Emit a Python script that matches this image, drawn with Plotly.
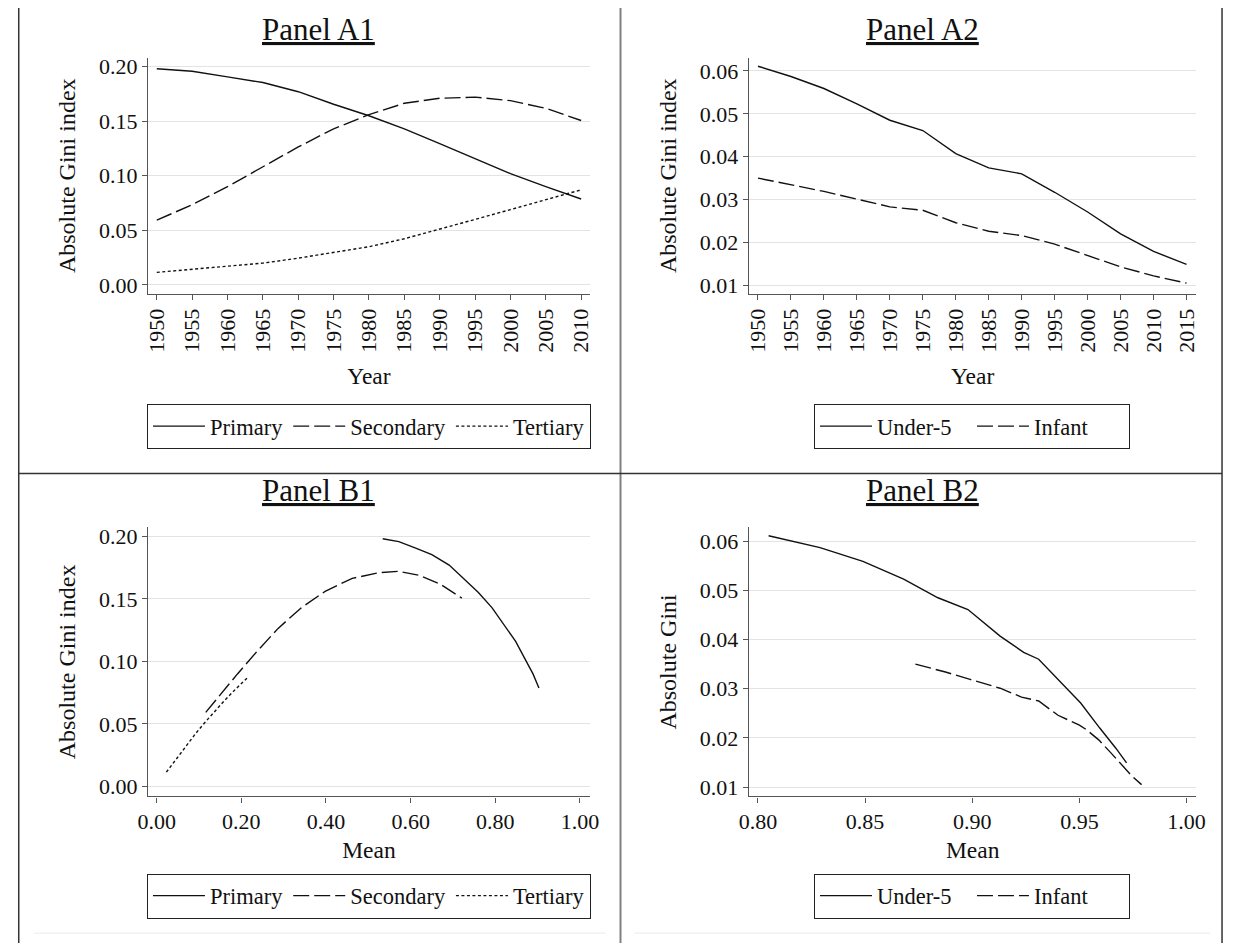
import plotly.graph_objects as go

# ---------------- data ----------------
years_edu = [1950, 1955, 1960, 1965, 1970, 1975, 1980, 1985, 1990, 1995, 2000, 2005, 2010]
primary_gini = [0.198, 0.1957, 0.1906, 0.1854, 0.177, 0.1655, 0.155, 0.143, 0.1295, 0.116, 0.102, 0.090, 0.0787]
secondary_gini = [0.0593, 0.0735, 0.090, 0.108, 0.1264, 0.143, 0.156, 0.1664, 0.171, 0.172, 0.1688, 0.1618, 0.1506]
tertiary_gini = [0.0115, 0.0142, 0.017, 0.020, 0.0245, 0.0296, 0.035, 0.0423, 0.0508, 0.060, 0.069, 0.078, 0.0871]
primary_mean = [0.534, 0.572, 0.612, 0.650, 0.691, 0.728, 0.760, 0.792, 0.820, 0.848, 0.870, 0.889, 0.903]
secondary_mean = [0.116, 0.150, 0.191, 0.237, 0.287, 0.342, 0.398, 0.462, 0.526, 0.572, 0.620, 0.670, 0.721]
tertiary_mean = [0.023, 0.029, 0.035, 0.041, 0.051, 0.062, 0.074, 0.092, 0.113, 0.137, 0.161, 0.187, 0.215]

years_mort = [1950, 1955, 1960, 1965, 1970, 1975, 1980, 1985, 1990, 1995, 2000, 2005, 2010, 2015]
u5_gini = [0.0611, 0.0587, 0.0559, 0.0523, 0.0485, 0.0461, 0.0407, 0.0374, 0.0360, 0.0317, 0.0271, 0.0220, 0.0179, 0.0149]
inf_gini = [0.0350, 0.0334, 0.0319, 0.0301, 0.0283, 0.0275, 0.0246, 0.0226, 0.0216, 0.0196, 0.0170, 0.0143, 0.0122, 0.0105]
u5_mean = [0.805, 0.829, 0.849, 0.868, 0.884, 0.898, 0.913, 0.924, 0.931, 0.9405, 0.9506, 0.9595, 0.967, 0.972]
inf_mean = [0.8735, 0.8875, 0.899, 0.913, 0.923, 0.931, 0.940, 0.950, 0.9535, 0.959, 0.9646, 0.970, 0.9746, 0.979]

edu_names = ["Primary", "Secondary", "Tertiary"]
mort_names = ["Under-5", "Infant"]
panel_titles = ["Panel A1", "Panel A2", "Panel B1", "Panel B2"]

# ---------------- style ----------------
OFF = 8                      # page body margin
W, H = 1233 - OFF, 947 - OFF
FONT = "Liberation Serif"
INK = "#111111"
GRID = "#e3e3e3"
AXC = "#555555"
dash_solid = "solid"
dash_long = "16px,5px"
dash_dot = "3px,2.5px"
LW = 1.4


def px_x(p):
    return (p - OFF) / W


def px_y(p):
    return 1 - (p - OFF) / H


fig = go.Figure()


def add(x, y, name, dash, xa, ya, legend):
    fig.add_trace(go.Scatter(
        x=x, y=y, name=name, mode="lines",
        line=dict(color=INK, width=LW, dash=dash),
        xaxis=xa, yaxis=ya, legend=legend, hoverinfo="skip"))


edu_dashes = [dash_solid, dash_long, dash_dot]
edu_gini = [primary_gini, secondary_gini, tertiary_gini]
edu_mean = [primary_mean, secondary_mean, tertiary_mean]
for n, d, g in zip(edu_names, edu_dashes, edu_gini):
    add(years_edu, g, n, d, "x", "y", "legend")
mort_dashes = [dash_solid, dash_long]
mort_gini = [u5_gini, inf_gini]
mort_mean = [u5_mean, inf_mean]
for n, d, g in zip(mort_names, mort_dashes, mort_gini):
    add(years_mort, g, n, d, "x2", "y2", "legend2")
for n, d, g, m in zip(edu_names, edu_dashes, edu_gini, edu_mean):
    add(m, g, n, d, "x3", "y3", "legend3")
for n, d, g, m in zip(mort_names, mort_dashes, mort_gini, mort_mean):
    add(m, g, n, d, "x4", "y4", "legend4")

tickfont = dict(family=FONT, size=22, color=INK)
titlefont = dict(family=FONT, size=23.5, color=INK)


def xaxis(domain, rng, dtick, title, tickangle, fmt, anchor, standoff):
    return dict(domain=domain, range=rng, dtick=dtick, tick0=0 if fmt else 1950,
                tickformat=fmt, tickangle=tickangle, showgrid=False, zeroline=False,
                showline=True, linecolor=AXC, linewidth=1.3, ticks="outside",
                ticklen=5, tickcolor=AXC, tickwidth=1.2, tickfont=tickfont,
                title=dict(text=title, font=titlefont, standoff=standoff), anchor=anchor,
                fixedrange=True)


def yaxis(domain, rng, dtick, tick0, title, anchor):
    return dict(domain=domain, range=rng, dtick=dtick, tick0=tick0, tickformat=".2f",
                showgrid=True, gridcolor=GRID, gridwidth=1.3, zeroline=False,
                showline=True, linecolor=AXC, linewidth=1.3, ticks="outside",
                ticklen=5, tickcolor=AXC, tickwidth=1.2, tickfont=tickfont,
                title=dict(text=title, font=dict(family=FONT, size=24, color=INK), standoff=16),
                anchor=anchor, fixedrange=True)


xl = [px_x(140), px_x(589)]
xr = [px_x(750.4), px_x(1205)]
yt = [px_y(293), px_y(55)]
yb = [px_y(799.3), px_y(528.3)]

leg_common = dict(orientation="h", bgcolor="white", bordercolor="#222", borderwidth=1,
                  font=dict(family=FONT, size=22.5, color=INK), xanchor="center",
                  yanchor="top", itemwidth=52, itemclick=False, itemdoubleclick=False)
leg_mort = dict(leg_common, entrywidth=90, entrywidthmode="pixels")

fig.update_layout(
    width=W, height=H, margin=dict(l=0, r=0, t=0, b=0),
    paper_bgcolor="white", plot_bgcolor="white",
    font=dict(family=FONT, size=22, color=INK),
    xaxis=xaxis(xl, [1948.75, 2011.25], 5, "Year", -90, None, "y", 15),
    yaxis=yaxis(yt, [-0.0082, 0.2082], 0.05, 0, "Absolute Gini index", "x"),
    xaxis2=xaxis(xr, [1948.62, 2016.5], 5, "Year", -90, None, "y2", 15),
    yaxis2=yaxis(yt, [0.008, 0.0631], 0.01, 0, "Absolute Gini index", "x2"),
    xaxis3=xaxis(xl, [-0.0205, 1.0236], 0.2, "Mean", 0, ".2f", "y3", 8),
    yaxis3=yaxis(yb, [-0.0079, 0.2071], 0.05, 0, "Absolute Gini index", "x3"),
    xaxis4=xaxis(xr, [0.7958, 1.0046], 0.05, "Mean", 0, ".2f", "y4", 8),
    yaxis4=yaxis(yb, [0.0081, 0.0628], 0.01, 0, "Absolute Gini", "x4"),
    legend=dict(leg_common, x=px_x(364.5), y=px_y(404)),
    legend2=dict(leg_mort, x=px_x(977), y=px_y(404)),
    legend3=dict(leg_common, x=px_x(364.5), y=px_y(877)),
    legend4=dict(leg_mort, x=px_x(977), y=px_y(877)),
    showlegend=True,
)

# panel titles
title_pos = [(313, 27), (927, 27), (313, 491), (927, 491)]
for t, (cx, cy) in zip(panel_titles, title_pos):
    fig.add_annotation(text="<u>%s</u>" % t, x=px_x(cx), y=px_y(cy), xref="paper", yref="paper",
                       showarrow=False, xanchor="center", yanchor="middle",
                       font=dict(family=FONT, size=31, color=INK))

# frame and dividers
frame = [
    (8.75, 0, 8.75, 947, "#333", 1.5),     # left
    (1231, 0, 1231, 947, "#333", 1.5),     # right
    (620, 0, 620, 947, "#808080", 2),      # vertical divider
    (8, 474, 1231, 474, "#333", 1.5),      # horizontal divider
    (24, 937, 605, 937, "#eef1ee", 1.2),
    (634, 937, 1219, 937, "#eef1ee", 1.2),
]
for x0, y0, x1, y1, c, w in frame:
    fig.add_shape(type="line", xref="paper", yref="paper",
                  x0=px_x(x0), y0=px_y(y0), x1=px_x(x1), y1=px_y(y1),
                  line=dict(color=c, width=w), layer="above")

fig.write_html("out.html")
